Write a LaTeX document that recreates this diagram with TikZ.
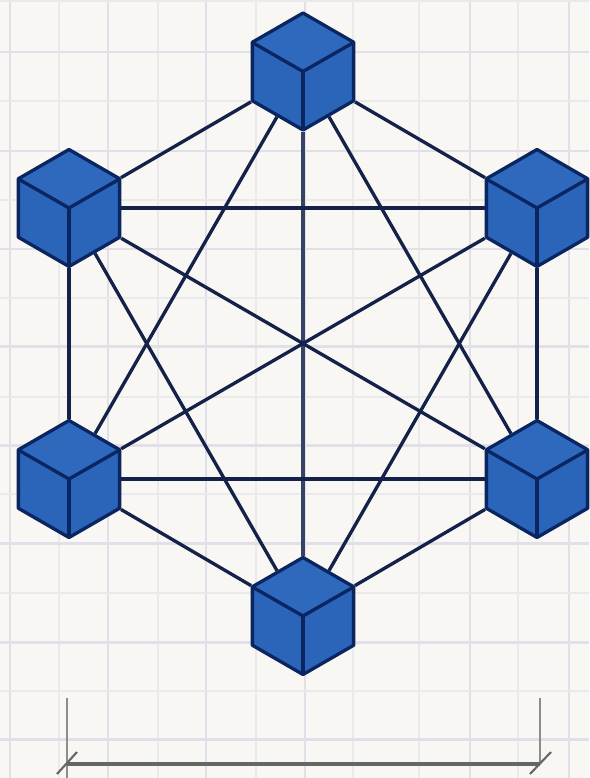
\documentclass[tikz,border=0pt]{standalone}
\usepackage{xcolor}
\usetikzlibrary{shapes.geometric,backgrounds}

\definecolor{paper}{HTML}{F8F7F4}
\definecolor{gridheavy}{HTML}{E1E0E9}
\definecolor{gridlight}{HTML}{EAE9EC}
\definecolor{navy}{HTML}{14224A}
\definecolor{cubeedge}{HTML}{0A2560}
\definecolor{cubeside}{HTML}{2A65BA}
\definecolor{cubetop}{HTML}{2E69BE}

\begin{document}
\begin{tikzpicture}[
  x=0.02cm,y=-0.02cm,
  gridheavy/.style={draw=gridheavy,line width=1.7pt},  gridlight/.style={draw=gridlight,line width=1.1pt},  link/.style={draw=navy,line width=1.9pt},  dimline/.style={draw=black!60,line width=1.2pt},  cube/.style={regular polygon,regular polygon sides=6,regular polygon rotate=30,minimum size=2.34cm,inner sep=0pt,draw=cubeedge,line width=1.9pt,line join=round,fill=cubeside,
    path picture={
      \fill[cubetop] (path picture bounding box.center) -- ++(51,-29.25) -- ++(-51,-29.25) -- ++(-51,29.25) -- cycle;
      \draw[cubeedge,line width=1.9pt,line join=round] (path picture bounding box.center) ++(-51,-29.25) -- ++(51,29.25) -- ++(51,-29.25);
      \draw[cubeedge,line width=2.3pt] (path picture bounding box.center) -- ++(0,58.5);
    }}
]
  \useasboundingbox (0,0) rectangle (589,778);
  \node[cube] (top) at (303,71.5) {};
  \node[cube] (upleft) at (69,208) {};
  \node[cube] (upright) at (537,208) {};
  \node[cube] (lowleft) at (69,479) {};
  \node[cube] (lowright) at (537,479) {};
  \node[cube] (bottom) at (303,616) {};
  \coordinate (dimleft) at (67,764);
  \coordinate (dimright) at (540,764);
  \coordinate (extleft) at (67,698);
  \coordinate (extright) at (540,698);
  \begin{pgfonlayer}{background}
    \fill[paper] (0,0) rectangle (589,778);
    % paper grid
    \draw[gridheavy] (10,0) -- (10,778);
    \draw[gridlight] (59,0) -- (59,778);
    \draw[gridheavy] (108,0) -- (108,778);
    \draw[gridlight] (158,0) -- (158,778);
    \draw[gridheavy] (206,0) -- (206,778);
    \draw[gridlight] (256,0) -- (256,778);
    \draw[gridheavy] (305,0) -- (305,778);
    \draw[gridlight] (353,0) -- (353,778);
    \draw[gridlight] (419,0) -- (419,778);
    \draw[gridheavy] (470,0) -- (470,778);
    \draw[gridlight] (518,0) -- (518,778);
    \draw[gridheavy] (569,0) -- (569,778);
    \draw[gridlight] (0,1) -- (589,1);
    \draw[gridheavy] (0,52) -- (589,52);
    \draw[gridlight] (0,101) -- (589,101);
    \draw[gridheavy] (0,151) -- (589,151);
    \draw[gridlight] (0,200) -- (589,200);
    \draw[gridheavy] (0,249) -- (589,249);
    \draw[gridlight] (0,298) -- (589,298);
    \draw[gridheavy] (0,346) -- (589,346);
    \draw[gridlight] (0,397) -- (589,397);
    \draw[gridheavy] (0,445) -- (589,445);
    \draw[gridlight] (0,494) -- (589,494);
    \draw[gridheavy] (0,543) -- (589,543);
    \draw[gridlight] (0,593) -- (589,593);
    \draw[gridheavy] (0,642) -- (589,642);
    \draw[gridlight] (0,691) -- (589,691);
    \draw[gridheavy] (0,739) -- (589,739);
    % links
    \draw[link] (top) -- (upleft);
    \draw[link] (top) -- (upright);
    \draw[link] (top) -- (lowleft);
    \draw[link] (top) -- (lowright);
    \draw[link,draw=navy!85,line width=2.4pt] (top) -- (bottom);
    \draw[link] (upleft) -- (upright);
    \draw[link] (upleft) -- (lowleft);
    \draw[link] (upleft) -- (lowright);
    \draw[link] (upleft) -- (bottom);
    \draw[link] (upright) -- (lowleft);
    \draw[link] (upright) -- (lowright);
    \draw[link] (upright) -- (bottom);
    \draw[link] (lowleft) -- (lowright);
    \draw[link] (lowleft) -- (bottom);
    \draw[link] (lowright) -- (bottom);
    % width mark
    \draw[dimline,draw=black!45,line width=0.8pt] (extleft) -- (67,778);
    \draw[dimline,draw=black!45,line width=0.8pt] (extright) -- (dimright);
    \draw[dimline,line width=1.8pt] (dimleft) -- (dimright);
    \draw[dimline] (57,774) -- (77,752);
    \draw[dimline] (530,774) -- (551,752);
  \end{pgfonlayer}
\end{tikzpicture}
\end{document}
